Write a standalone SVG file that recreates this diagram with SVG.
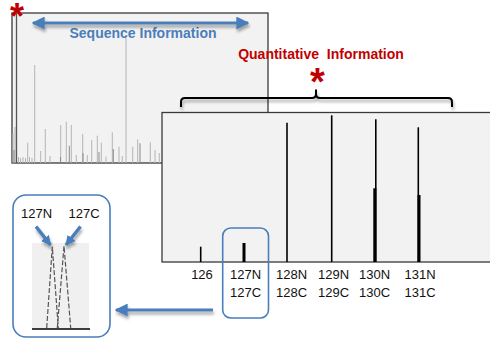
<svg xmlns="http://www.w3.org/2000/svg" width="490" height="343" viewBox="0 0 490 343">
<defs>
<style>
.panel{fill:#f2f2f2;stroke:#3a3a3a;stroke-width:1.3}
.pk{stroke:#b4b4b4;stroke-width:1}
.pkd{stroke:#8a8a8a;stroke-width:1}
.qk{stroke:#000;stroke-width:1.6}
.qkb{stroke:#000;stroke-width:3}
.lbl{font-family:"Liberation Sans",Arial,sans-serif;font-size:13px;fill:#111;text-anchor:middle}
.blue{stroke:#4a7ebb;fill:none}
.ast{font-family:"Liberation Sans",Arial,sans-serif;font-weight:bold;fill:#c00000;text-anchor:middle}
</style>
<filter id="sh" filterUnits="userSpaceOnUse" x="0" y="0" width="490" height="343">
<feGaussianBlur in="SourceAlpha" stdDeviation="1.8"/>
<feOffset dx="1" dy="3" result="b"/>
<feComponentTransfer><feFuncA type="linear" slope="0.35"/></feComponentTransfer>
<feMerge><feMergeNode/><feMergeNode in="SourceGraphic"/></feMerge>
</filter>
<marker id="ah" viewBox="0 0 10 10" refX="9" refY="5" markerWidth="13" markerHeight="13" markerUnits="userSpaceOnUse" orient="auto-start-reverse">
<path d="M0,0 L10,5 L0,10 Z" fill="#4a7ebb"/>
</marker>
<marker id="ahs" viewBox="0 0 10 10" refX="9" refY="5" markerWidth="10" markerHeight="10" markerUnits="userSpaceOnUse" orient="auto">
<path d="M0,0 L10,5 L0,10 Z" fill="#4a7ebb"/>
</marker>
</defs>
<rect width="490" height="343" fill="#fff"/>

<g id="sequence-panel">
<rect class="panel" x="12" y="13" width="256" height="150"/>
<g class="pk">
<line x1="13" y1="163" x2="13" y2="133"/>
<line x1="15" y1="163" x2="15" y2="127"/>
<line x1="34.7" y1="163" x2="34.7" y2="65"/>
<line x1="126" y1="163" x2="126" y2="38"/>
<line x1="45.3" y1="163" x2="45.3" y2="129"/>
<line x1="60.7" y1="163" x2="60.7" y2="125"/>
<line x1="66.3" y1="163" x2="66.3" y2="121.7"/>
<line x1="71.3" y1="163" x2="71.3" y2="125"/>
<line x1="82.7" y1="163" x2="82.7" y2="134"/>
<line x1="91.7" y1="163" x2="91.7" y2="140"/>
<line x1="97.3" y1="163" x2="97.3" y2="135.7"/>
<line x1="101.3" y1="163" x2="101.3" y2="142.7"/>
<line x1="112.3" y1="163" x2="112.3" y2="132.3"/>
<line x1="119" y1="163" x2="119" y2="146.7"/>
<line x1="27.7" y1="163" x2="27.7" y2="142.7"/>
<line x1="40.7" y1="163" x2="40.7" y2="151"/>
<line x1="50" y1="163" x2="50" y2="156"/>
<line x1="76.3" y1="163" x2="76.3" y2="155"/>
<line x1="87.3" y1="163" x2="87.3" y2="155"/>
<line x1="106" y1="163" x2="106" y2="156.5"/>
<line x1="122.3" y1="163" x2="122.3" y2="156"/>
<line x1="132.7" y1="163" x2="132.7" y2="146.7"/>
<line x1="137.7" y1="163" x2="137.7" y2="139.3"/>
<line x1="150.3" y1="163" x2="150.3" y2="142.3"/>
<line x1="155" y1="163" x2="155" y2="150"/>
<line x1="159.3" y1="163" x2="159.3" y2="153"/>
<line x1="18.5" y1="163" x2="18.5" y2="157"/>
<line x1="20.5" y1="163" x2="20.5" y2="158"/>
<line x1="23" y1="163" x2="23" y2="157"/>
<line x1="25.5" y1="163" x2="25.5" y2="158"/>
<line x1="29.5" y1="163" x2="29.5" y2="157"/>
<line x1="32" y1="163" x2="32" y2="158"/>
</g>
<g class="pkd">
<line x1="69.3" y1="163" x2="69.3" y2="145.7"/>
<line x1="113.3" y1="163" x2="113.3" y2="149"/>
<line x1="140" y1="163" x2="140" y2="143.3"/>
<line x1="83" y1="163" x2="83" y2="153"/>
<line x1="99" y1="163" x2="99" y2="152"/>
<line x1="60.5" y1="163" x2="60.5" y2="157"/>
<line x1="14" y1="163" x2="14" y2="150"/>
</g>
<line x1="16.5" y1="13" x2="16.5" y2="163" stroke="#555" stroke-width="1.3"/>
<text class="ast" x="17" y="29" font-size="36">*</text>
<text x="143" y="38" font-family="'Liberation Sans',Arial,sans-serif" font-weight="bold" font-size="14" fill="#4a7ebb" text-anchor="middle">Sequence Information</text>
</g>

<g id="quant-header">
<text x="321" y="59" font-family="'Liberation Sans',Arial,sans-serif" font-weight="bold" font-size="14" fill="#c00000" text-anchor="middle" xml:space="preserve">Quantitative  Information</text>
<text class="ast" x="317.5" y="95" font-size="38">*</text>
<path d="M181,107 L181,102 Q181,98 185,98 L312,98 Q316,98 316,94 L316,89.5 L316,94 Q316,98 320,98 L448,98 Q452,98 452,102 L452,107" fill="none" stroke="#000" stroke-width="2" filter="url(#sh)"/>
</g>

<g id="quant-panel">
<rect class="panel" x="162" y="112.5" width="340" height="149.5"/>
<line class="qk" x1="200.7" y1="262" x2="200.7" y2="246.7"/>
<line class="qkb" x1="244" y1="262" x2="244" y2="243"/>
<line class="qk" x1="287" y1="262" x2="287" y2="122.7"/>
<line class="qk" x1="331.7" y1="262" x2="331.7" y2="115.3"/>
<line class="qk" x1="375.8" y1="262" x2="375.8" y2="119.3"/>
<line class="qkb" x1="374.8" y1="262" x2="374.8" y2="188.3"/>
<line class="qk" x1="418.3" y1="262" x2="418.3" y2="127.3"/>
<line class="qkb" x1="419" y1="262" x2="419" y2="195"/>
</g>

<g id="channel-labels">
<text class="lbl" x="202" y="279">126</text>
<text class="lbl" x="245.5" y="279">127N</text>
<text class="lbl" x="245.5" y="297">127C</text>
<text class="lbl" x="291.5" y="279">128N</text>
<text class="lbl" x="291.5" y="297">128C</text>
<text class="lbl" x="333.5" y="279">129N</text>
<text class="lbl" x="333.5" y="297">129C</text>
<text class="lbl" x="374.5" y="279">130N</text>
<text class="lbl" x="374.5" y="297">130C</text>
<text class="lbl" x="420" y="279">131N</text>
<text class="lbl" x="420" y="297">131C</text>
</g>

<g id="highlight-127">
<rect class="blue" x="222.7" y="228" width="45.8" height="90" rx="8" stroke-width="1.6"/>
</g>

<g id="inset">
<rect class="blue" x="13" y="195" width="97" height="142" rx="13" stroke-width="1.6"/>
<rect x="32" y="243" width="57" height="86" fill="#f0f0f0"/>
<g fill="none" stroke="#555" stroke-width="1.2" stroke-dasharray="5,2">
<path d="M46.7,328 L52.3,246.7 L58.3,328"/>
<path d="M57.3,328 L64,246 L70.7,328"/>
</g>
<line x1="32" y1="329" x2="90" y2="329" stroke="#000" stroke-width="1.3"/>
<text class="lbl" x="36.5" y="218">127N</text>
<text class="lbl" x="84" y="218">127C</text>
</g>

<g id="connectors">
<line class="blue" x1="33" y1="23" x2="248" y2="23" stroke-width="3" marker-start="url(#ah)" marker-end="url(#ah)" filter="url(#sh)"/>
<line class="blue" x1="213" y1="310" x2="116" y2="310" stroke-width="3" marker-end="url(#ah)" filter="url(#sh)"/>
<line class="blue" x1="36" y1="226.5" x2="50.5" y2="245" stroke-width="3.5" marker-end="url(#ahs)" filter="url(#sh)"/>
<line class="blue" x1="80.5" y1="226.5" x2="66" y2="245" stroke-width="3.5" marker-end="url(#ahs)" filter="url(#sh)"/>
</g>
</svg>
